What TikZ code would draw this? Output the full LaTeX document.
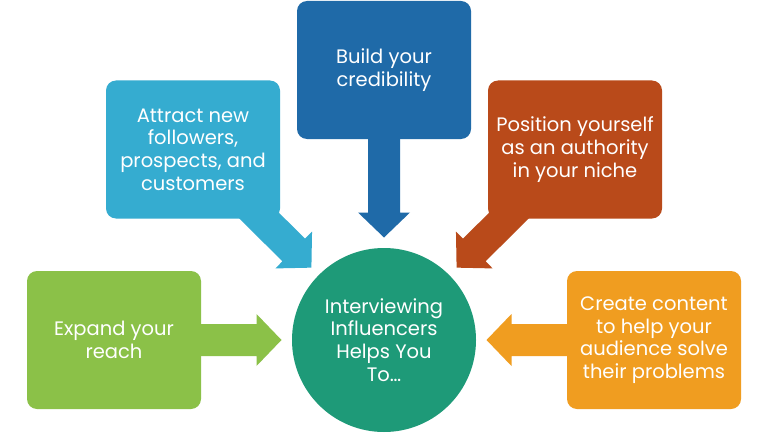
\documentclass[tikz,border=0pt]{standalone}
\usepackage{fontspec}
\setmainfont{Poppins}
\definecolor{cgreen}{RGB}{139,193,72}
\definecolor{clblue}{RGB}{53,172,208}
\definecolor{cdblue}{RGB}{31,106,168}
\definecolor{cred}{RGB}{185,74,26}
\definecolor{corange}{RGB}{240,157,32}
\definecolor{cteal}{RGB}{30,154,120}
% block arrow pointing from a box towards the hub; #1 colour, #2 angle of the box seen from the hub
\newcommand\blkarrow[2]{%
  \begin{scope}[shift={(hub.center)}, rotate=#2]
    \fill[#1] (255,16) -- (127.5,16) -- (127.5,26) -- (102.5,0) -- (127.5,-26) -- (127.5,-16) -- (255,-16) -- cycle;
  \end{scope}}
\tikzset{
  box/.style={rounded corners=10pt, minimum width=174pt, minimum height=138pt,
    inner sep=0pt, align=center, text=white, font=\fontsize{19.5}{22.7}\selectfont},
  hubstyle/.style={circle, fill=cteal, minimum size=184pt, inner sep=0pt,
    align=center, text=white, font=\fontsize{19.5}{22.7}\selectfont}
}
\begin{document}
\begin{tikzpicture}[x=1pt,y=1pt]
\useasboundingbox (0,0) rectangle (768,432);
\fill[white] (0,0) rectangle (768,432);
\node[hubstyle] (hub) at (384,92) {Interviewing\\Influencers\\Helps You\\To…};
\blkarrow{cgreen}{180}
\blkarrow{clblue}{135.1}
\blkarrow{cdblue}{90}
\blkarrow{cred}{44.9}
\blkarrow{corange}{0}
\node[box, fill=cgreen] (expand) at (114,92) {Expand your\\reach};
\node[box, fill=clblue] (attract) at (193,282.5) {Attract new\\followers,\\prospects, and\\customers};
\node[box, fill=cdblue] (build) at (384,362) {Build your\\credibility};
\node[box, fill=cred] (position) at (575,282.5) {Position yourself\\as an authority\\in your niche};
\node[box, fill=corange] (create) at (654,92) {Create content\\to help your\\audience solve\\their problems};
\end{tikzpicture}
\end{document}
